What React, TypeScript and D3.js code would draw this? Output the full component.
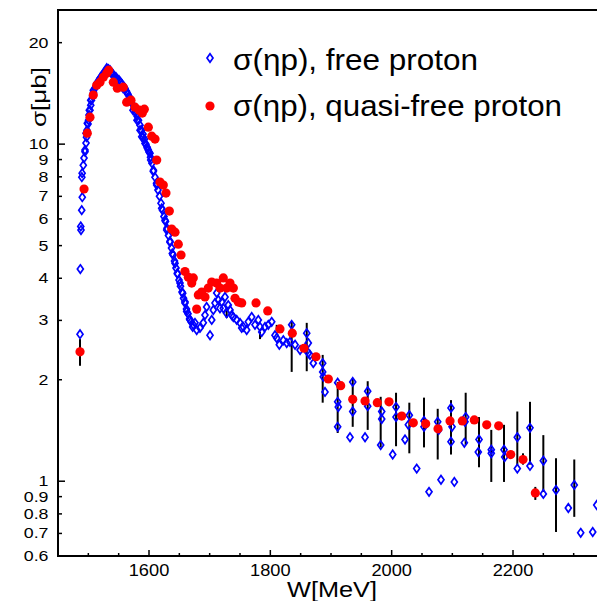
import React from 'react';
import * as d3 from 'd3';

// sigma(eta p), free proton: W [MeV], sigma [mub]
const freeW = [
  1486.3, 1486.8, 1487.5, 1487.9, 1489.1, 1490.0, 1489.3, 1489.8, 1491.7, 1492.9,
  1494.5, 1496.2, 1497.0, 1497.8, 1499.5, 1500.3, 1501.1, 1502.7, 1504.0, 1505.2,
  1506.9, 1508.5, 1511.0, 1513.5, 1516.0, 1518.4, 1520.9, 1523.4, 1525.8, 1528.3,
  1530.8, 1533.2, 1535.7, 1538.2, 1540.7, 1543.1, 1545.6, 1548.1, 1550.6, 1553.0,
  1555.5, 1558.0, 1560.4, 1562.9, 1565.4, 1567.9, 1570.3, 1572.8, 1575.3, 1577.7,
  1580.2, 1582.7, 1585.2, 1587.6, 1590.1, 1592.6, 1595.0, 1597.5, 1600.0, 1602.5,
  1604.9, 1607.4, 1609.9, 1612.4, 1614.8, 1617.3, 1619.8, 1622.3, 1624.7, 1627.2,
  1629.7, 1632.1, 1634.6, 1637.1, 1639.6, 1642.0, 1644.5, 1647.0, 1649.5, 1651.9,
  1654.4, 1656.9, 1659.3, 1661.8, 1664.3, 1666.8, 1669.2, 1672.0, 1675.8, 1678.6,
  1684.0, 1689.5, 1692.3, 1695.0, 1700.6, 1703.4, 1706.0, 1708.8, 1711.6, 1714.2,
  1717.0, 1719.8, 1722.5, 1725.3, 1728.0, 1730.7, 1733.5, 1736.3, 1739.0, 1744.6,
  1750.0, 1752.8, 1755.5, 1761.0, 1763.7, 1769.3, 1774.7, 1780.2, 1783.0, 1785.8,
  1791.2, 1796.7, 1802.3, 1807.7, 1810.5, 1814.8, 1821.4, 1827.0, 1832.4, 1835.2,
  1840.8, 1849.0, 1857.2, 1860.0, 1862.6, 1862.6, 1865.4, 1870.8, 1886.3, 1886.3,
  1887.3, 1890.1, 1911.0, 1911.0, 1912.0, 1911.0, 1931.3, 1935.8, 1935.8, 1956.1,
  1960.5, 1960.5, 1981.9, 1983.6, 1983.6, 2001.7, 2007.2, 2007.2, 2022.0, 2029.1,
  2027.5, 2041.3, 2053.3, 2053.3, 2061.6, 2075.9, 2077.5, 2081.3, 2097.8, 2099.5,
  2097.8, 2103.3, 2122.0, 2120.9, 2119.8, 2144.0, 2142.8, 2164.2, 2164.2, 2185.2,
  2186.3, 2207.1, 2207.1, 2228.0, 2228.0, 2250.0, 2250.0, 2270.9, 2291.2, 2301.0,
  2311.6, 2331.4, 2338.0,
  // second overlapping set (peak region)
  1494.5, 1496.2, 1498.3, 1501.6, 1503.9, 1508.2, 1513.8, 1519.2, 1524.7, 1530.3,
  1535.7, 1540.7, 1552.3, 1557.2, 1563.8, 1573.6, 1580.2, 1585.2, 1588.0, 1590.1,
  1593.4, 1596.7, 1598.8, 1601.7, 1602.8, 1607.1, 1612.7, 1620.9, 1626.4, 1629.2,
  1634.6, 1638.4, 1642.9, 1646.7, 1651.1, 1655.6, 1659.3, 1662.1, 1667.6, 1673.0,
];
const freeS = [
  2.73, 4.26, 5.7, 5.56, 6.37, 6.96, 7.98, 8.2, 8.66, 9.09,
  9.6, 10.07, 10.49, 11.0, 11.47, 11.78, 12.2, 12.61, 13.05, 13.5,
  13.9, 14.26, 14.66, 14.96, 15.27, 15.58, 15.79, 16.0, 16.23, 16.46,
  16.69, 16.69, 16.46, 16.23, 16.12, 15.9, 15.79, 15.58, 15.47, 15.27,
  15.06, 14.86, 14.66, 14.36, 14.07, 13.79, 13.5, 13.14, 12.78, 12.44,
  12.11, 11.78, 11.38, 11.0, 10.71, 10.35, 10.0, 9.73, 9.47, 9.15,
  8.78, 8.37, 7.98, 7.66, 7.31, 7.01, 6.68, 6.37, 6.1, 5.9,
  5.63, 5.36, 5.12, 4.92, 4.69, 4.5, 4.29, 4.12, 3.95, 3.79,
  3.64, 3.49, 3.38, 3.24, 3.14, 3.03, 2.97, 2.87, 2.95, 2.81,
  2.85, 2.95, 3.11, 3.29, 2.71, 3.01, 3.22, 3.38, 3.62, 3.45,
  3.26, 3.40, 3.26, 3.52, 3.15, 3.33, 3.22, 3.11, 3.07, 3.01,
  2.95, 2.85, 2.87, 2.81, 2.97, 3.07, 2.91, 3.01, 2.87, 2.77,
  2.87, 2.91, 2.97, 2.71, 2.66, 2.54, 2.62, 2.57, 2.59, 2.91,
  2.54, 2.45, 2.48, 2.75, 2.57, 2.40, 2.37, 2.24, 2.24, 2.11,
  2.04, 1.84, 1.96, 1.72, 1.66, 1.45, 1.35, 1.97, 1.61, 1.35,
  1.85, 1.67, 1.28, 1.61, 1.53, 1.20, 1.66, 1.55, 1.33, 1.57,
  1.47, 1.09, 1.51, 1.45, 0.93, 1.50, 1.42, 1.01, 1.65, 1.45,
  1.31, 0.995, 1.55, 1.50, 1.30, 1.33, 1.22, 1.24, 1.21, 1.24,
  1.18, 1.35, 1.09, 1.44, 1.11, 1.15, 0.917, 0.942, 0.833, 0.975,
  0.703, 0.707, 0.85,
  9.5, 10.78, 11.54, 12.61, 13.5, 14.45, 15.16, 15.69, 16.23, 16.8,
  16.57, 16.01, 15.27, 14.66, 14.17, 12.61, 11.78, 11.0, 10.52, 10.49,
  10.05, 9.8, 9.6, 9.4, 8.97, 8.3, 7.56, 6.45, 5.95, 5.56,
  5.15, 4.74, 4.43, 4.14, 3.87, 3.61, 3.41, 3.19, 3.01, 2.91,
];

// sigma(eta p), quasi-free proton
const quasiW = [
  1486.3, 1492.9, 1498.3, 1502.7, 1508.2, 1513.8, 1519.2, 1524.7, 1530.3, 1533.6,
  1541.2, 1547.8, 1557.6, 1563.2, 1570.3, 1576.9, 1584.0, 1592.3, 1589.0, 1598.9,
  1604.5, 1609.9, 1612.7, 1618.1, 1623.6, 1628.0, 1633.5, 1637.4, 1642.9, 1648.3,
  1652.8, 1659.3, 1664.8, 1670.4, 1673.0, 1678.6, 1681.3, 1686.9, 1692.3, 1697.7,
  1703.4, 1711.6, 1717.0, 1722.5, 1728.0, 1733.5, 1739.0, 1741.8, 1747.2, 1752.8,
  1776.4, 1795.7, 1815.9, 1836.2, 1855.5, 1875.3, 1895.6, 1916.0, 1935.8, 1956.1,
  1976.3, 1995.6, 2016.6, 2035.7, 2056.1, 2076.4, 2096.2, 2116.4, 2136.2, 2156.7,
  2176.4, 2196.2, 2216.5, 2236.8,
];
const quasiS = [
  2.42, 7.36, 10.78, 12.02, 13.98, 14.96, 15.27, 15.79, 16.23, 16.57,
  15.27, 14.66, 14.76, 13.32, 13.5, 12.87, 12.61, 12.70, 12.36, 11.23,
  10.56, 10.35, 8.97, 7.72, 7.56, 7.16, 6.33, 5.60, 5.48, 5.05,
  4.69, 4.19, 4.03, 3.87, 4.01, 3.24, 3.57, 3.64, 3.52, 3.74,
  3.90, 3.87, 3.74, 4.01, 3.74, 3.87, 3.74, 3.49, 3.40, 3.38,
  3.38, 3.20, 2.83, 2.75, 2.48, 2.34, 2.01, 1.92, 1.75, 1.73,
  1.71, 1.72, 1.56, 1.49, 1.48, 1.43, 1.51, 1.51, 1.52, 1.47,
  1.46, 1.20, 1.16, 0.923,
];

// error bars (both data sets): W, lower, upper
const errW = [
  1486.3, 2216.5, 2236.8, 1728.0, 1783.0, 1810.5, 1835.2, 1860.0, 1886.3, 1911.0,
  1935.8, 1960.5, 1981.9, 2007.2, 2029.1, 2053.3, 2075.9, 2097.8, 2122.0, 2144.0,
  2164.2, 2185.2, 2207.1, 2228.0, 2250.0, 2270.9, 2301.0,
];
const errLo = [
  2.20, 1.12, 0.88, 3.05, 2.64, 2.81, 2.11, 2.12, 1.71, 1.39,
  1.45, 1.42, 1.26, 1.27, 1.21, 1.26, 1.16, 1.20, 1.28, 1.10,
  0.995, 0.995, 1.11, 1.12, 0.93, 0.707, 0.784,
];
const errHi = [
  2.64, 1.21, 0.962, 3.26, 2.77, 2.91, 2.97, 2.95, 2.37, 1.97,
  2.02, 1.98, 1.78, 1.83, 1.71, 1.77, 1.64, 1.74, 1.83, 1.55,
  1.42, 1.47, 1.61, 1.72, 1.37, 1.17, 1.16,
];

const yTicks = [0.6, 0.7, 0.8, 0.9, 1, 2, 3, 4, 5, 6, 7, 8, 9, 10, 20];
const yLabels = ['0.6', '0.7', '0.8', '0.9', '1', '2', '3', '4', '5', '6', '7', '8', '9', '10', '20'];
const xMajor = [1600, 1800, 2000, 2200];
const xMinor = [1500, 1550, 1650, 1700, 1750, 1850, 1900, 1950, 2050, 2100, 2150, 2250, 2300];

const legendLabels = ['σ(ηp), free proton', 'σ(ηp), quasi-free proton'];

const FONT = "'Liberation Sans', Arial, Helvetica, sans-serif";
const BLUE = '#0000ff';
const RED = '#ff0000';

const diamond = 'M0,-4.2L3,0L0,4.2L-3,0Z';

export default function App() {
  const W = 597;
  const H = 601;
  const left = 58, top = 10, bottom = 556, rightR = 604;
  const x = d3.scaleLinear().domain([1450, 2350]).range([left, rightR]);
  const y = d3.scaleLog().domain([0.6, 25]).range([bottom, top]);

  return (
    <svg width={W} height={H} style={{ position: 'absolute', left: 0, top: 0, background: '#fff' }}
      fontFamily={FONT}>
      <rect x={0} y={0} width={W} height={H} fill="#fff" />

      {/* error bars */}
      <g stroke="#000" strokeWidth={2}>
        {errW.map((w, i) => (
          <line key={i} x1={x(w)} x2={x(w)} y1={y(errLo[i])} y2={y(errHi[i])} />
        ))}
      </g>

      {/* free proton: open diamonds */}
      <g fill="none" stroke={BLUE} strokeWidth={1.7}>
        {freeW.map((w, i) => (
          <path key={i} d={diamond} transform={`translate(${x(w)},${y(freeS[i])})`} />
        ))}
      </g>

      {/* quasi-free proton: red dots */}
      <g fill={RED}>
        {quasiW.map((w, i) => (
          <circle key={i} cx={x(w)} cy={y(quasiS[i])} r={4.6} />
        ))}
      </g>

      {/* frame */}
      <g stroke="#000" strokeWidth={2} fill="none">
        <line x1={left} x2={W} y1={top} y2={top} />
        <line x1={left} x2={left} y1={top - 1} y2={bottom + 1} />
        <line x1={left - 1} x2={W} y1={bottom} y2={bottom} />
      </g>

      {/* y ticks */}
      <g stroke="#000" strokeWidth={1.5}>
        {yTicks.map((t, i) => (
          <line key={i} x1={left} x2={left + (t === 1 || t === 10 ? 7 : 4)} y1={y(t)} y2={y(t)} />
        ))}
      </g>
      <g fontSize={14} fill="#000">
        {yTicks.map((t, i) => (
          <text key={i} textAnchor="end" transform={`translate(48.5,${y(t) + 5}) scale(1.27,1)`}>
            {yLabels[i]}
          </text>
        ))}
      </g>

      {/* x ticks */}
      <g stroke="#000" strokeWidth={1.5}>
        {xMajor.map((t) => (
          <line key={t} x1={x(t)} x2={x(t)} y1={bottom} y2={bottom - 6} />
        ))}
        {xMinor.map((t) => (
          <line key={t} x1={x(t)} x2={x(t)} y1={bottom} y2={bottom - 3} />
        ))}
      </g>
      <g fontSize={16} fill="#000">
        {xMajor.map((t) => (
          <text key={t} textAnchor="middle" transform={`translate(${x(t)},${bottom + 20}) scale(1.14,1)`}>
            {String(t)}
          </text>
        ))}
      </g>

      {/* axis titles */}
      <text x={287} y={597} fontSize={22} textLength={90} lengthAdjust="spacingAndGlyphs">W[MeV]</text>
      <text transform="translate(46,127) rotate(-90)" fontSize={20} textLength={60}
        lengthAdjust="spacingAndGlyphs">σ[μb]</text>

      {/* legend */}
      <path d={diamond} transform="translate(210,58)" fill="none" stroke={BLUE} strokeWidth={1.7} />
      <circle cx={210} cy={106} r={4.6} fill={RED} />
      <text x={233} y={70} fontSize={29} textLength={245} lengthAdjust="spacingAndGlyphs">{legendLabels[0]}</text>
      <text x={233} y={116} fontSize={29} textLength={329} lengthAdjust="spacingAndGlyphs">{legendLabels[1]}</text>
    </svg>
  );
}
